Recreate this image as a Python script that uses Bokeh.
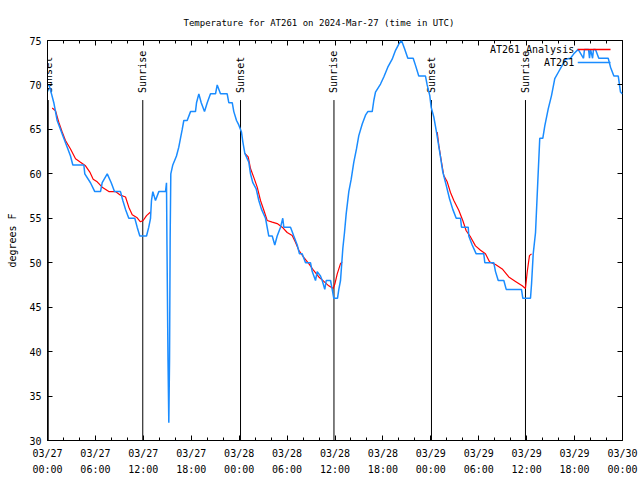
import math
import pandas as pd
from bokeh.plotting import figure
from bokeh.models import (Range1d, FixedTicker, DatetimeTickFormatter, LinearAxis,
                          DatetimeAxis, Label, CustomJSTickFormatter)
from bokeh.core.properties import value
from bokeh.embed import file_html
from bokeh.resources import INLINE

# ---------------- data (hours since 2024-03-27 00:00 UTC) ----------------
blue_hours = [0.06, 0.19, 0.50, 0.79, 1.21, 1.63, 2.04, 2.47, 2.88, 3.17, 4.55, 4.67,
              5.38, 5.92, 6.64, 6.85, 7.48, 7.98, 8.39, 9.14, 9.43, 9.77, 10.18, 10.93,
              11.23, 11.56, 12.40, 12.68, 12.90, 13.02, 13.19, 13.52, 13.94, 14.78, 14.90,
              14.96, 15.09, 15.19, 15.28, 15.36, 15.44, 15.69, 16.15, 16.44, 16.65, 16.87,
              17.07, 17.49, 17.91, 18.53, 18.66, 18.95, 19.25, 19.66, 20.00, 20.41, 21.04,
              21.25, 21.66, 22.50, 22.70, 23.13, 23.33, 23.67, 23.95, 24.29, 24.46, 24.71,
              25.21, 25.42, 25.71, 26.13, 26.46, 26.80, 27.30, 27.71, 28.14, 28.46, 28.76,
              29.18, 29.46, 29.59, 30.43, 30.84, 31.27, 31.55, 31.89, 32.31, 32.93, 33.15,
              33.56, 33.77, 34.18, 34.40, 34.72, 34.90, 35.44, 35.65, 35.85, 36.31, 36.48,
              36.69, 36.98, 37.19, 37.40, 37.73, 38.03, 38.35, 38.69, 38.98, 39.41, 39.82,
              40.11, 40.66, 40.86, 41.07, 41.70, 42.11, 42.61, 43.16, 43.58, 43.99, 44.33,
              44.70, 45.12, 45.79, 46.08, 46.49, 47.33, 47.54, 47.87, 48.04, 48.37, 48.71,
              49.12, 49.50, 49.93, 50.34, 50.75, 51.18, 51.72, 51.84, 52.68, 52.75, 53.18,
              53.68, 54.63, 54.76, 55.88, 56.10, 56.44, 57.14, 57.44, 59.35, 59.52, 60.48,
              60.61, 60.82, 61.11, 61.40, 61.64, 62.02, 62.27, 62.70, 63.11, 63.52, 63.95,
              64.45, 64.86, 65.49, 65.90, 66.45, 67.12, 67.24, 67.75, 67.87, 68.00, 68.25,
              68.37, 68.62, 69.03, 70.21, 70.50, 70.92, 71.47, 71.75, 72.00]
blue_temp = [70, 70, 69, 68, 66, 65, 64, 63, 62, 61, 61, 60,
             59, 58, 58, 59, 60, 59, 58, 58, 57, 56, 55, 55,
             54, 53, 53, 54, 55, 57, 58, 57, 58, 58, 59,
             52, 39, 32, 39, 53, 60, 61, 62, 63, 64, 65,
             66, 66, 67, 67, 68, 69, 68, 67, 68, 69, 69,
             70, 69, 69, 68, 68, 67, 66, 65.5, 64.7, 63.6, 62.3,
             61.3, 60, 59, 58.3, 57, 56, 55, 53, 53, 52, 53,
             54, 55, 54, 54, 53, 52, 51, 51, 50, 50, 49,
             48, 49, 48.5, 48, 47, 48, 48, 47, 46, 46, 47,
             48, 51.6, 53.4, 55.5, 58, 59.4, 61.3, 62.8, 64.3, 65.6, 66.6,
             67, 67, 68.25, 69.2, 70.1, 70.9, 72, 72.9, 73.9, 74.6, 75,
             74.1, 73, 73, 72.2, 71, 71, 70, 68.8, 67.5, 66.4, 64.7,
             62.4, 60.2, 58.7, 57.2, 56, 55, 55, 54, 54, 53, 52,
             51, 51, 50, 50, 49, 48, 48, 47, 47, 46, 46,
             47.6, 51, 53.4, 59.25, 64, 64, 65.4, 67.3, 68.8, 70.7, 71.4,
             72.2, 72.9, 73, 73.5, 74, 73, 74, 74, 73, 74, 73,
             74, 74, 73, 73, 72, 71, 71, 69.2, 69]

red1_hours = [0.59, 1.00, 1.41, 1.84, 2.25, 2.88, 3.51, 4.13, 4.76, 5.30, 5.72, 6.22,
              6.85, 7.68, 8.51, 9.14, 9.77, 10.18, 10.61, 11.23, 11.64, 11.98, 12.40, 12.90]
red1_temp = [67.4, 67.1, 65.8, 64.7, 63.75, 62.8, 61.7, 61.3, 60.9, 60.2, 59.4, 59.1,
             58.5, 58.0, 58.0, 57.6, 57.4, 56.25, 55.4, 55.05, 54.6, 54.75, 55.3, 55.7]
red2_hours = [24.71, 25.13, 25.42, 25.83, 26.26, 26.67, 27.09, 27.51, 28.14, 28.76, 29.39,
              30.01, 30.64, 31.05, 31.47, 32.09, 32.72, 33.35, 33.97, 34.60, 35.22, 35.77,
              35.98, 36.28, 36.69, 36.90]
red2_temp = [62.3, 61.9, 60.6, 59.6, 58.5, 57, 55.9, 54.75, 54.56, 54.4, 54,
             53.4, 53.06, 52.3, 51.4, 50.6, 49.9, 49.1, 48.4, 47.9, 47.4, 47.1,
             47.6, 48.75, 49.9, 50.1]
red3_hours = [48.80, 49.00, 49.34, 49.62, 50.05, 50.46, 50.88, 51.50, 52.00, 52.43, 52.97,
              53.59, 54.22, 54.84, 55.35, 56.10, 56.94, 57.76, 58.60, 59.44, 59.85, 60.06,
              60.35, 60.61]
red3_temp = [64.7, 63.2, 61.3, 59.8, 59.1, 57.9, 57, 55.9, 54.75, 53.6, 52.9,
             51.9, 51.4, 51, 50.1, 49.8, 49.3, 48.4, 47.9, 47.4, 47.1, 48.9,
             50.8, 51]

event_hours = [0.09, 11.93, 24.17, 35.87, 48.08, 59.85]
event_names = ["Sunset", "Sunrise", "Sunset", "Sunrise", "Sunset", "Sunrise"]

x_major_hours = [0, 6, 12, 18, 24, 30, 36, 42, 48, 54, 60, 66, 72]
x_minor_hours = list(range(0, 73, 2))
y_ticks = [30, 35, 40, 45, 50, 55, 60, 65, 70, 75]

title_text = "Temperature for AT261 on 2024-Mar-27 (time in UTC)"
y_label = "degrees F"
series_names = ["AT261 Analysis", "AT261"]

# ---------------- helpers ----------------
T0 = pd.Timestamp("2024-03-27 00:00")
T0_MS = T0.timestamp() * 1000.0


def to_dt(hours):
    return [T0 + pd.Timedelta(hours=h) for h in hours]


def to_ms(h):
    return T0_MS + h * 3600000.0


FONT = "DejaVu Sans Mono"
BLUE = "#1a8cff"
RED = "#ff0000"

p = figure(x_axis_type="datetime", width=640, height=480,
           output_backend="svg", toolbar_location=None,
           min_border_left=47, min_border_right=18, min_border_top=40, min_border_bottom=40,
           x_range=Range1d(start=T0, end=T0 + pd.Timedelta(hours=72)),
           y_range=Range1d(start=30, end=75))
p.outline_line_color = "black"
p.outline_line_width = 1
p.grid.visible = False
p.background_fill_color = "white"
p.border_fill_color = "white"

p.title.text = title_text
p.title.text_font = FONT
p.title.text_font_size = "9px"
p.title.text_font_style = "normal"
p.title.text_color = "black"
p.title.align = "left"
p.title.offset = 136
p.title.standoff = 26

xticker = FixedTicker(ticks=[to_ms(h) for h in x_major_hours],
                      minor_ticks=[to_ms(h) for h in x_minor_hours])
yticker = FixedTicker(ticks=y_ticks, minor_ticks=[])
fmt = "%m/%d\n%H:%M"
xfmt = DatetimeTickFormatter(microseconds=fmt, milliseconds=fmt, seconds=fmt, minsec=fmt,
                             minutes=fmt, hourmin=fmt, hours=fmt, days=fmt, months=fmt,
                             years=fmt)
blank = CustomJSTickFormatter(code="return '';")


def style_axis(ax):
    ax.axis_line_color = None
    ax.major_tick_in = 5
    ax.major_tick_out = 0
    ax.minor_tick_in = 3
    ax.minor_tick_out = 0
    ax.major_tick_line_color = "black"
    ax.minor_tick_line_color = "black"
    ax.major_label_text_font = FONT
    ax.major_label_text_font_size = "10px"
    ax.major_label_text_color = "black"


xb = p.xaxis[0]
xb.ticker = xticker
xb.formatter = xfmt
style_axis(xb)
xb.major_label_standoff = 7
xb.major_label_text_line_height = 1.5

yl = p.yaxis[0]
yl.ticker = yticker
style_axis(yl)
yl.major_label_standoff = 6
yl.axis_label = y_label
yl.axis_label_text_font = FONT
yl.axis_label_text_font_size = "10px"
yl.axis_label_text_font_style = "normal"
yl.axis_label_text_color = "black"
yl.axis_label_standoff = 8

xa = DatetimeAxis(ticker=xticker, formatter=blank)
style_axis(xa)
xa.major_label_standoff = 0
p.add_layout(xa, "above")
yr = LinearAxis(ticker=yticker, formatter=blank)
style_axis(yr)
yr.major_label_standoff = 0
p.add_layout(yr, "right")

# sunrise / sunset markers
ev_x = to_dt(event_hours)
p.segment(x0=ev_x, y0=[68.3] * len(ev_x), x1=ev_x, y1=[30] * len(ev_x),
          line_color="black", line_width=1)
p.text(x=ev_x, y=[69.1] * len(ev_x), text=event_names, angle=math.pi / 2,
       text_align="left", text_baseline="middle", text_font=value(FONT),
       text_font_size="10px", text_color="black")

# analysis (red) then observations (blue)
for hh, tt in [(red1_hours, red1_temp), (red2_hours, red2_temp), (red3_hours, red3_temp)]:
    p.line(to_dt(hh), tt, line_color=RED, line_width=1.2)
p.line(to_dt(blue_hours), blue_temp, line_color=BLUE, line_width=1.5)

# gnuplot-style key: label then line sample
key_y = [73.99, 72.53]
key_colors = [RED, BLUE]
for name, ky, col in zip(series_names, key_y, key_colors):
    p.add_layout(Label(x=to_ms(65.95), y=ky, text=name, text_align="right",
                       text_baseline="middle", text_font=FONT, text_font_size="10px",
                       text_color="black"))
    p.segment(x0=[to_ms(66.4)], y0=[ky], x1=[to_ms(70.5)], y1=[ky],
              line_color=col, line_width=1.5)

open("out.html", "w").write(file_html(p, INLINE))
